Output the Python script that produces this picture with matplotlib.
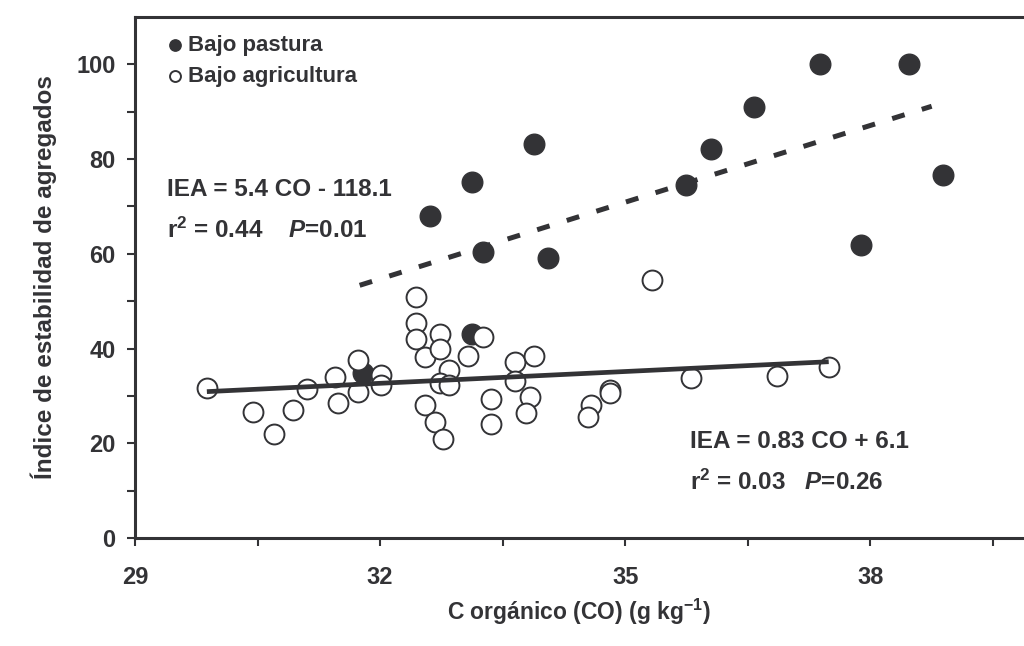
import numpy as np
import matplotlib
matplotlib.use("Agg")
import matplotlib.pyplot as plt

plt.rcParams['font.family'] = ['Liberation Sans', 'DejaVu Sans']
plt.rcParams['font.weight'] = 'bold'
plt.rcParams['axes.labelweight'] = 'bold'
plt.rcParams['mathtext.fontset'] = 'custom'
plt.rcParams['mathtext.rm'] = 'Liberation Sans:bold'
plt.rcParams['mathtext.bf'] = 'Liberation Sans:bold'
plt.rcParams['mathtext.it'] = 'Liberation Sans:bold:italic'

ink = '#333336'

# Bajo pastura (C organico g/kg, IEA)
co_pastura = [32.61, 33.12, 33.26, 33.88, 34.06, 35.74, 36.05, 36.58,
              37.38, 38.47, 37.89, 38.89, 31.79, 33.12]
iea_pastura = [67.9, 75.1, 60.3, 83.1, 59.1, 74.5, 82.1, 90.9,
               100.0, 100.0, 61.8, 76.6, 34.8, 43.0]

# Bajo agricultura
co_agric = [29.88, 30.45, 30.70, 30.93, 31.10, 31.45, 31.49, 31.73, 31.73,
            32.01, 32.01, 32.44, 32.44, 32.44, 32.55, 32.73, 32.73, 32.84,
            32.73, 32.84, 32.55, 32.67, 32.77, 33.07, 33.26, 33.36, 33.36,
            33.65, 33.88, 33.65, 33.83, 33.78, 34.58, 34.54, 35.33, 34.81,
            34.81, 35.81, 36.86, 37.49]
iea_agric = [31.7, 26.6, 21.9, 27.0, 31.4, 33.9, 28.5, 37.5, 30.9,
             34.4, 32.2, 50.8, 45.4, 42.0, 38.3, 43.0, 39.8, 35.4,
             32.8, 32.4, 28.1, 24.5, 20.8, 38.5, 42.5, 29.3, 24.1,
             37.1, 38.5, 33.1, 29.8, 26.4, 28.1, 25.5, 54.4, 31.2,
             30.7, 33.8, 34.2, 36.0]

# regression fits
fit_pastura = (5.4, -118.1)
fit_agric = (0.83, 6.1)
range_pastura = (31.75, 38.75)
range_agric = (min(co_agric), max(co_agric))

fig = plt.figure(figsize=(10.24, 6.46), dpi=100)
ax = fig.add_axes([0.1318, 0.1672, 0.8682, 0.8065])

ax.scatter(co_pastura, iea_pastura, s=220, color=ink, zorder=2,
           label='Bajo pastura')
ax.scatter(co_agric, iea_agric, s=205, facecolor='white', edgecolor=ink,
           linewidth=1.4, zorder=3, label='Bajo agricultura')

xp = np.array(range_pastura)
ax.plot(xp, fit_pastura[0] * xp + fit_pastura[1], color=ink, lw=3.6,
        linestyle=(0, (2.6, 3.6)), solid_capstyle='butt',
        dash_capstyle='butt', zorder=4)
xa = np.array(range_agric)
ax.plot(xa, fit_agric[0] * xa + fit_agric[1], color=ink, lw=3.4,
        solid_capstyle='butt', zorder=4)

ax.text(29.39, 73.5, 'IEA = 5.4 CO - 118.1', fontsize=17.5, color=ink,
        va='center')
ax.text(29.39, 65.0, r'r$^{2}$ = 0.44    $P$=0.01', fontsize=17.5,
        color=ink, va='center')
ax.text(35.79, 20.3, 'IEA = 0.83 CO + 6.1', fontsize=17.5, color=ink,
        va='center')
ax.text(35.79, 11.8, r'r$^{2}$ = 0.03   $P$=0.26', fontsize=17.5,
        color=ink, va='center')

ax.set_xlim(29, 39.88)
ax.set_ylim(0, 110)
ax.set_xticks([29, 32, 35, 38])
ax.set_xticks([30.5, 33.5, 36.5, 39.5], minor=True)
ax.set_yticks(np.arange(0, 101, 20))
ax.set_yticks(np.arange(10, 100, 20), minor=True)

for side in ['left', 'bottom', 'top']:
    ax.spines[side].set_linewidth(2.2)
    ax.spines[side].set_color(ink)
ax.spines['right'].set_visible(False)

ax.tick_params(axis='both', which='both', direction='out', length=6,
               width=1.5, color=ink, labelcolor=ink, labelsize=17)
ax.tick_params(axis='x', pad=14)
ax.tick_params(axis='y', pad=8)

ax.set_xlabel(r'C orgánico (CO) (g kg$^{-1}$)', fontsize=16.5, color=ink,
              labelpad=6)
ax.set_ylabel('Índice de estabilidad de agregados', fontsize=17.5,
              color=ink, labelpad=14)

leg = ax.legend(loc='upper left', bbox_to_anchor=(0.03, 0.982),
                frameon=False, fontsize=16, markerscale=0.55,
                handlelength=0.4, handletextpad=0.4, labelspacing=0.45,
                borderaxespad=0)
for t in leg.get_texts():
    t.set_color(ink)

fig.savefig('out.png', dpi=100)
